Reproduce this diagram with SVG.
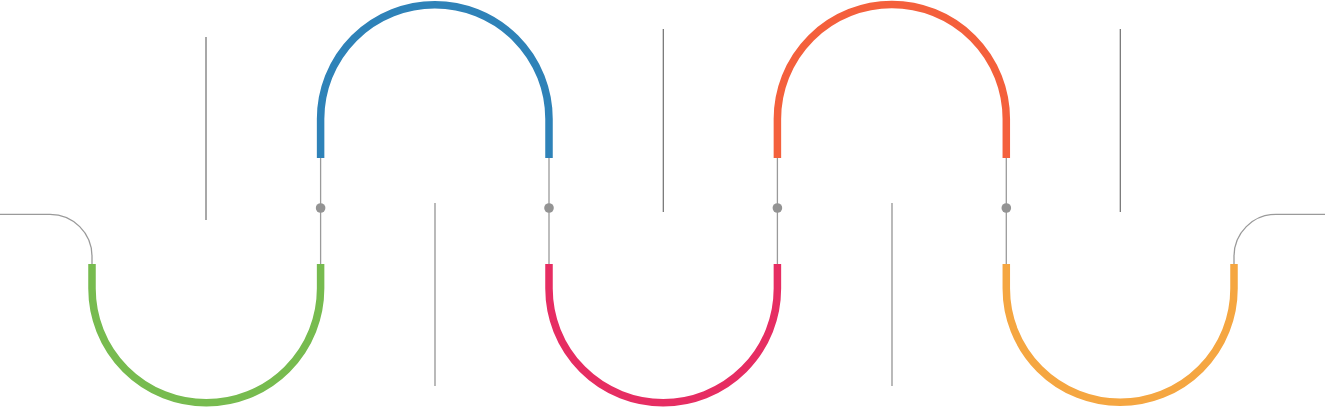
<svg xmlns="http://www.w3.org/2000/svg" width="1327" height="407" viewBox="0 0 1327 407">
<style>
.arc{fill:none;stroke-width:7.5;stroke-linecap:butt}
.thin{fill:none;stroke:#9a9a9a;stroke-width:1.3}
.vdark{stroke:#6e6e6e;stroke-width:1.2}
.vlight{stroke:#9c9c9c;stroke-width:1.4}
.dot{fill:#939393}
</style>
<rect width="1327" height="407" fill="#ffffff"/>
<g id="connectors">
<path class="thin" d="M0 214.3 H50 A42 42 0 0 1 92 256.3 V265"/>
<path class="thin" d="M1325 214.3 H1276 A42 42 0 0 0 1234 256.3 V265"/>
<line class="thin" x1="320.6" y1="157" x2="320.6" y2="265"/>
<line class="thin" x1="549" y1="157" x2="549" y2="265"/>
<line class="thin" x1="777.4" y1="157" x2="777.4" y2="265"/>
<line class="thin" x1="1006.3" y1="157" x2="1006.3" y2="265"/>
<line class="vdark" x1="206" y1="37" x2="206" y2="220"/>
<line class="vlight" x1="435" y1="203" x2="435" y2="386"/>
<line class="vdark" x1="663.3" y1="29" x2="663.3" y2="212"/>
<line class="vlight" x1="892" y1="203" x2="892" y2="386"/>
<line class="vdark" x1="1120.3" y1="29" x2="1120.3" y2="212"/>
</g>
<g id="dots">
<circle class="dot" cx="320.6" cy="208" r="4.8"/>
<circle class="dot" cx="549" cy="208" r="4.8"/>
<circle class="dot" cx="777.4" cy="208" r="4.8"/>
<circle class="dot" cx="1006.3" cy="208" r="4.8"/>
</g>
<g id="arc-green">
<path class="arc" stroke="#77bb4f" d="M92 264 V288.5 A114.3 114.3 0 0 0 320.6 288.5 V264"/>
</g>
<g id="arc-blue">
<path class="arc" stroke="#2e82b8" d="M320.6 158 V119 A114.2 114.2 0 0 1 549 119 V158"/>
</g>
<g id="arc-pink">
<path class="arc" stroke="#e62d62" d="M549 264 V288.5 A114.2 114.2 0 0 0 777.4 288.5 V264"/>
</g>
<g id="arc-red">
<path class="arc" stroke="#f4603c" d="M777.4 158 V119 A114.45 114.45 0 0 1 1006.3 119 V158"/>
</g>
<g id="arc-orange">
<path class="arc" stroke="#f5a641" d="M1006.3 264 V288.5 A113.85 113.85 0 0 0 1234 288.5 V264"/>
</g>
</svg>
